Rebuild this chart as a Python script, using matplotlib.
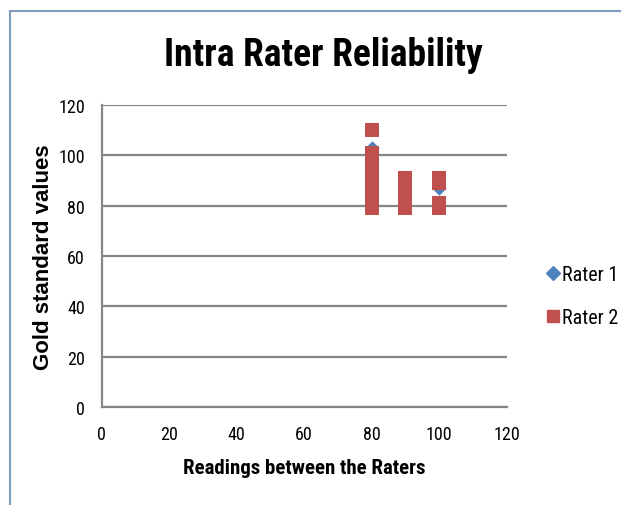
import matplotlib.pyplot as plt
from matplotlib.patches import Rectangle
from matplotlib.lines import Line2D

# data
rater1_x = [80, 100]
rater1_y = [103, 87]

rater2_x = [80, 80, 80, 80, 80, 80, 80, 80, 90, 90, 90, 90, 100, 100, 100, 100]
rater2_y = [79, 83, 87, 91, 95, 99, 101, 110, 79, 83, 87, 91, 79, 81, 89, 91]

ticks = [0, 20, 40, 60, 80, 100, 120]

narrow = ['Roboto Condensed', 'DejaVu Sans']

fig = plt.figure(figsize=(6.21, 5.06), dpi=100)
ax = fig.add_axes([101.7 / 621, 1 - 408.3 / 506, 405 / 621, 302.6 / 506])

# blue chart border (only left and top visible in the crop)
fig.patches.append(Rectangle((10 / 621, -0.1), 1.2, 1 - 12 / 506 + 0.1,
                             transform=fig.transFigure, fill=False,
                             edgecolor='#7f9cc0', linewidth=1.5))

ax.scatter(rater1_x, rater1_y, marker='D', s=55, color='#4F81BD', zorder=3, linewidths=0)
ax.scatter(rater2_x, rater2_y, marker='s', s=95, color='#C0504D', zorder=4, linewidths=0)

ax.set_xlim(0, 120)
ax.set_ylim(0, 120)
ax.set_xticks(ticks)
ax.set_yticks(ticks)
ax.tick_params(length=0, labelsize=13)
ax.tick_params(axis='y', pad=12)
ax.tick_params(axis='x', pad=13)
for lab in ax.get_xticklabels() + ax.get_yticklabels():
    lab.set_family(narrow)

ax.grid(axis='y', color='#868686', linewidth=1.6)
ax.set_axisbelow(True)
for side in ['top', 'right']:
    ax.spines[side].set_visible(False)
ax.spines['left'].set_color('#868686')
ax.spines['bottom'].set_color('#868686')
ax.spines['left'].set_linewidth(1.6)
ax.spines['bottom'].set_linewidth(1.6)

fig.text(323 / 621, 1 - 55 / 506, 'Intra Rater Reliability', ha='center', va='center',
         fontsize=27, fontweight='bold', family=narrow)
fig.text(304 / 621, 1 - 469 / 506, 'Readings between the Raters', ha='center', va='center',
         fontsize=15, fontweight='bold', family=narrow)
fig.text(44 / 621, 1 - 257 / 506, 'Gold standard values', ha='center', va='center',
         rotation=90, fontsize=16, fontweight='bold', family=['Liberation Sans', 'DejaVu Sans'])

handles = [Line2D([], [], marker='D', linestyle='', color='#4F81BD', markersize=7),
           Line2D([], [], marker='s', linestyle='', color='#C0504D', markersize=8.5)]
leg = fig.legend(handles, ['Rater 1', 'Rater 2'], loc='center left',
                 bbox_to_anchor=(529 / 621, 1 - 297 / 506), frameon=False,
                 handlelength=0.6, handletextpad=0.12, labelspacing=1.2,
                 prop={'family': narrow, 'size': 14.5})

fig.savefig('out.png', dpi=100)
